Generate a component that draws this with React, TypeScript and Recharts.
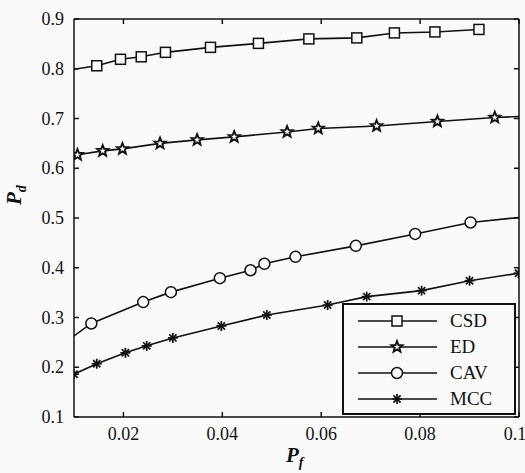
import React from 'react';
import { LineChart, Line, XAxis, YAxis, Legend } from 'recharts';

// P_f / P_d values (marker points)
const csdPf = [0.0146, 0.0194, 0.0236, 0.0285, 0.0376, 0.0473, 0.0575, 0.0672, 0.0748, 0.083, 0.0919];
const csdPd = [0.806, 0.819, 0.824, 0.833, 0.843, 0.851, 0.86, 0.862, 0.872, 0.874, 0.879];
const csdStart = [0.01, 0.799];

const edPf = [0.0107, 0.0158, 0.0198, 0.0274, 0.0349, 0.0424, 0.0531, 0.0594, 0.0712, 0.0835, 0.0951];
const edPd = [0.627, 0.635, 0.639, 0.65, 0.657, 0.663, 0.673, 0.68, 0.685, 0.694, 0.702];
const edStart = [0.01, 0.625];
const edEnd = [0.1, 0.704];

const cavPf = [0.0135, 0.024, 0.0296, 0.0395, 0.0457, 0.0485, 0.0548, 0.067, 0.079, 0.0902];
const cavPd = [0.288, 0.331, 0.351, 0.379, 0.395, 0.408, 0.422, 0.444, 0.468, 0.491];
const cavStart = [0.01, 0.263];
const cavEnd = [0.1, 0.501];

const mccPf = [0.01, 0.0146, 0.0204, 0.0247, 0.03, 0.0398, 0.049, 0.0613, 0.0692, 0.0803, 0.09, 0.0999];
const mccPd = [0.186, 0.207, 0.229, 0.243, 0.259, 0.283, 0.305, 0.325, 0.342, 0.354, 0.374, 0.389];

const xTicks = [0.02, 0.04, 0.06, 0.08, 0.1];
const yTicks = [0.1, 0.2, 0.3, 0.4, 0.5, 0.6, 0.7, 0.8, 0.9];

const SERIES = [
  { key: 'csd', label: 'CSD', marker: 'square' },
  { key: 'ed', label: 'ED', marker: 'star' },
  { key: 'cav', label: 'CAV', marker: 'circle' },
  { key: 'mcc', label: 'MCC', marker: 'asterisk' },
];

type Row = { x: number; y: number; m: boolean };

const toRows = (pf: number[], pd: number[], start?: number[], end?: number[]): Row[] => {
  const rows: Row[] = pf.map((x, i) => ({ x, y: pd[i], m: true }));
  if (start) rows.unshift({ x: start[0], y: start[1], m: false });
  if (end) rows.push({ x: end[0], y: end[1], m: false });
  return rows;
};

const DATA: Record<string, Row[]> = {
  csd: toRows(csdPf, csdPd, csdStart),
  ed: toRows(edPf, edPd, edStart, edEnd),
  cav: toRows(cavPf, cavPd, cavStart, cavEnd),
  mcc: toRows(mccPf, mccPd),
};

const INK = '#111';
const BG = '#fafafa';
const FONT = 'Liberation Serif, DejaVu Serif, serif';

const Marker = ({ kind, cx, cy }: { kind: string; cx: number; cy: number }) => {
  if (kind === 'square') {
    return <rect x={cx - 5} y={cy - 5} width={10} height={10} fill={BG} stroke={INK} strokeWidth={1.5} />;
  }
  if (kind === 'circle') {
    return <circle cx={cx} cy={cy} r={5.5} fill={BG} stroke={INK} strokeWidth={1.5} />;
  }
  if (kind === 'star') {
    const pts: string[] = [];
    for (let i = 0; i < 10; i++) {
      const r = i % 2 === 0 ? 5.8 : 2.5;
      const a = -Math.PI / 2 + (i * Math.PI) / 5;
      pts.push(`${cx + r * Math.cos(a)},${cy + r * Math.sin(a)}`);
    }
    return <polygon points={pts.join(' ')} fill={BG} stroke={INK} strokeWidth={1.9} />;
  }
  const r = 5;
  const d = r * 0.72;
  return (
    <g stroke={INK} strokeWidth={1.7}>
      <line x1={cx} y1={cy - r} x2={cx} y2={cy + r} />
      <line x1={cx - r} y1={cy} x2={cx + r} y2={cy} />
      <line x1={cx - d} y1={cy - d} x2={cx + d} y2={cy + d} />
      <line x1={cx - d} y1={cy + d} x2={cx + d} y2={cy - d} />
    </g>
  );
};

const fmt = (v: number) => String(Number(v.toFixed(2)));

const BottomTick = ({ x, y, payload }: any) => (
  <g>
    <line x1={x} y1={y} x2={x} y2={y - 5} stroke={INK} strokeWidth={1.5} />
    <text
      x={payload.value >= 0.1 ? x - 4 : x}
      y={y + 23}
      textAnchor="middle"
      fontFamily={FONT}
      fontSize={18}
      fill={INK}
    >
      {fmt(payload.value)}
    </text>
  </g>
);

const LeftTick = ({ x, y, payload }: any) => (
  <g>
    <line x1={x} y1={y} x2={x + 5} y2={y} stroke={INK} strokeWidth={1.5} />
    <text x={x - 10} y={y + 6} textAnchor="end" fontFamily={FONT} fontSize={18} fill={INK}>
      {fmt(payload.value)}
    </text>
  </g>
);

const TopTick = ({ x, y }: any) => (
  <line x1={x} y1={y} x2={x} y2={y + 5} stroke={INK} strokeWidth={1.5} />
);

const RightTick = ({ x, y }: any) => (
  <line x1={x} y1={y} x2={x - 5} y2={y} stroke={INK} strokeWidth={1.5} />
);

const LegendBox = () => (
  <div
    style={{
      width: 174,
      height: 112,
      border: `2px solid ${INK}`,
      background: BG,
      boxSizing: 'border-box',
    }}
  >
    <svg width={172} height={110} style={{ display: 'block' }}>
      {SERIES.map((s, i) => {
        const cy = 16 + i * 26;
        return (
          <g key={s.key}>
            <line x1={14} y1={cy} x2={93} y2={cy} stroke={INK} strokeWidth={1.5} />
            <Marker kind={s.marker} cx={53} cy={cy} />
            <text x={106} y={cy + 6} fontFamily={FONT} fontSize={19} fill={INK}>
              {s.label}
            </text>
          </g>
        );
      })}
    </svg>
  </div>
);

export default function App() {
  return (
    <div style={{ position: 'absolute', left: 0, top: 0, width: 525, height: 473, background: BG }}>
      <LineChart width={525} height={473} margin={{ top: 0, right: 0, bottom: 0, left: 0 }}>
        <XAxis
          xAxisId="b"
          type="number"
          dataKey="x"
          domain={[0.01, 0.1]}
          allowDataOverflow
          ticks={xTicks}
          height={56}
          tickSize={0}
          tickMargin={0}
          tickLine={false}
          axisLine={{ stroke: INK, strokeWidth: 1.5 }}
          tick={<BottomTick />}
          interval={0}
          label={{
            content: () => (
              <text x={286} y={462} fontFamily={FONT} fontStyle="italic" fontWeight="bold" fontSize={21} fill={INK}>
                P
                <tspan dy={5} fontSize={14}>f</tspan>
              </text>
            ),
          }}
        />
        <XAxis
          xAxisId="t"
          orientation="top"
          type="number"
          dataKey="x"
          domain={[0.01, 0.1]}
          allowDataOverflow
          ticks={xTicks}
          height={19}
          tickSize={0}
          tickMargin={0}
          tickLine={false}
          axisLine={{ stroke: INK, strokeWidth: 1.5 }}
          tick={<TopTick />}
          interval={0}
        />
        <YAxis
          yAxisId="l"
          type="number"
          domain={[0.1, 0.9]}
          allowDataOverflow
          ticks={yTicks}
          width={74}
          tickSize={0}
          tickMargin={0}
          tickLine={false}
          axisLine={{ stroke: INK, strokeWidth: 1.5 }}
          tick={<LeftTick />}
          interval={0}
          label={{
            content: () => (
              <text
                transform="translate(21,205) rotate(-90)"
                fontFamily={FONT}
                fontStyle="italic"
                fontWeight="bold"
                fontSize={21}
                fill={INK}
              >
                P
                <tspan dy={5} fontSize={14}>d</tspan>
              </text>
            ),
          }}
        />
        <YAxis
          yAxisId="r"
          orientation="right"
          type="number"
          domain={[0.1, 0.9]}
          allowDataOverflow
          ticks={yTicks}
          width={6}
          tickSize={0}
          tickMargin={0}
          tickLine={false}
          axisLine={{ stroke: INK, strokeWidth: 1.5 }}
          tick={<RightTick />}
          interval={0}
        />
        {SERIES.map(s => (
          <Line
            key={s.key}
            xAxisId="b"
            yAxisId="l"
            data={DATA[s.key]}
            dataKey="y"
            name={s.label}
            type="linear"
            stroke={INK}
            strokeWidth={1.6}
            isAnimationActive={false}
            dot={(p: any) =>
              p.payload.m ? (
                <Marker key={`${s.key}-${p.index}`} kind={s.marker} cx={p.cx} cy={p.cy} />
              ) : (
                <g key={`${s.key}-${p.index}`} />
              )
            }
            activeDot={false}
          />
        ))}
        <Legend
          layout="vertical"
          align="center"
          verticalAlign="middle"
          content={<LegendBox />}
          wrapperStyle={{ position: 'absolute', left: 342, top: 303, width: 174, height: 112 }}
        />
      </LineChart>
    </div>
  );
}
